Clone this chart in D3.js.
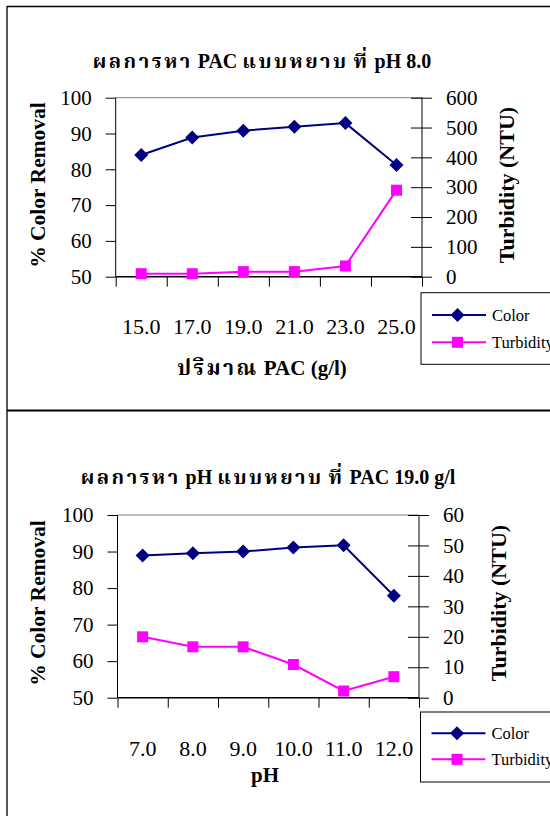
<!DOCTYPE html>
<html>
<head>
    <meta charset="utf-8">
    <title>PAC / pH jar test</title>
    <script type="text/javascript" src="https://d3js.org/d3.v7.min.js"></script>
    <style>
        body { margin: 0; background: white; }
        .canvas {
            font-family: "Liberation Serif", "Times New Roman", "Norasi", "Noto Serif Thai", "Noto Sans Thai", serif;
            background-color: white;
        }
        .axis text { font-size: 21px; fill: #000; }
        .axis path { display: none; }
        .axis line { stroke: #000; }
        .thai { letter-spacing: 2.5px; }
    </style>
</head>
<body>
    <svg class="canvas" width="550" height="816"></svg>
    <script type="text/javascript">
        // chart 1 : PAC dose at pH 8.0
        var pacDoses = ["15.0", "17.0", "19.0", "21.0", "23.0", "25.0"]
        var pacColor = [84.0, 88.9, 90.8, 91.9, 92.9, 81.2]
        var pacTurbidity = [10, 10, 17, 17, 36, 290]

        // chart 2 : pH at PAC 19.0 g/l
        var phLevels = ["7.0", "8.0", "9.0", "10.0", "11.0", "12.0"]
        var phColor = [88.9, 89.5, 90.0, 91.1, 91.7, 77.9]
        var phTurbidity = [20.0, 16.7, 16.7, 10.9, 2.2, 6.9]

        var colorTicks = [50, 60, 70, 80, 90, 100]
        var pacTurbTicks = [0, 100, 200, 300, 400, 500, 600]
        var phTurbTicks = [0, 10, 20, 30, 40, 50, 60]

        var svg = d3.select('.canvas')

        // outer frames (page is cropped on the right)
        svg.append('line').attr('x1', 7).attr('x2', 7).attr('y1', 6).attr('y2', 816)
            .attr('stroke', '#000').attr('stroke-width', 1.3)
        svg.append('line').attr('x1', 7).attr('x2', 550).attr('y1', 6.5).attr('y2', 6.5)
            .attr('stroke', '#000').attr('stroke-width', 1.3)
        svg.append('line').attr('x1', 7).attr('x2', 550).attr('y1', 410.5).attr('y2', 410.5)
            .attr('stroke', '#000').attr('stroke-width', 2)

        // split a label into thai / latin runs so thai can be spaced out a bit
        function mixedText(sel, str) {
            var runs = str.match(/[\u0E00-\u0E7F]+|[^\u0E00-\u0E7F]+/g)
            runs.forEach(r => {
                var t = sel.append('tspan').text(r)
                if (/[\u0E00-\u0E7F]/.test(r)) t.attr('class', 'thai')
            })
        }

        function drawChart(cfg) {
            var g = svg.append('g')
            var left = cfg.left, right = cfg.right, top = cfg.top, bottom = cfg.bottom

            var x = d3.scaleBand().domain(cfg.cats).range([left, right])
            var xi = d3.scaleLinear().domain([0, cfg.cats.length]).range([left, right])
            var yL = d3.scaleLinear().domain([50, 100]).range([bottom, top])
            var yR = d3.scaleLinear().domain([0, d3.max(cfg.turbTicks)]).range([bottom, top])
            var cx = d => x(d) + x.bandwidth() / 2

            // plot area frame
            g.append('line').attr('x1', left).attr('x2', right).attr('y1', top).attr('y2', top)
                .attr('stroke', '#808080')
            g.append('line').attr('x1', left).attr('x2', left).attr('y1', top).attr('y2', bottom)
                .attr('stroke', '#000')
            g.append('line').attr('x1', right).attr('x2', right).attr('y1', top).attr('y2', bottom)
                .attr('stroke', '#000')

            // left axis
            g.append('g').attr('class', 'axis')
                .attr('transform', 'translate(' + left + ',0)')
                .call(d3.axisLeft(yL).tickValues(colorTicks).tickSize(10).tickSizeOuter(0).tickPadding(14))

            // right axis (ticks cross the line)
            g.append('g').attr('class', 'axis')
                .attr('transform', 'translate(' + right + ',0)')
                .call(d3.axisRight(yR).tickValues(cfg.turbTicks).tickSize(10).tickSizeOuter(0).tickPadding(14))
            g.append('g').attr('class', 'axis')
                .attr('transform', 'translate(' + right + ',0)')
                .call(d3.axisLeft(yR).tickValues(cfg.turbTicks).tickSize(11).tickSizeOuter(0).tickFormat(''))

            // bottom axis: boundary ticks + category labels far below
            g.append('g').attr('class', 'axis')
                .attr('transform', 'translate(0,' + bottom + ')')
                .call(d3.axisBottom(xi).tickValues(d3.range(cfg.cats.length + 1)).tickSize(10).tickFormat(''))
            g.append('line').attr('x1', left).attr('x2', right).attr('y1', bottom).attr('y2', bottom)
                .attr('stroke', '#000').attr('stroke-width', 1.6)
            g.append('g').attr('class', 'axis')
                .attr('transform', 'translate(0,' + bottom + ')')
                .call(d3.axisBottom(x).tickSize(0).tickPadding(cfg.xLabelPad))
                .selectAll('text').style('font-size', '22px')

            // let axis labels use the page serif font
            g.selectAll('.axis').attr('font-family', null)

            // titles
            g.append('text').attr('x', cfg.titleX).attr('y', cfg.titleY)
                .attr('text-anchor', 'middle').attr('font-size', 20).attr('font-weight', 'bold')
                .call(mixedText, cfg.title)
            g.append('text').attr('x', cfg.xTitleX).attr('y', cfg.xTitleY)
                .attr('text-anchor', 'middle').attr('font-size', 21).attr('font-weight', 'bold')
                .call(mixedText, cfg.xTitle)
            g.append('text')
                .attr('transform', 'translate(45,' + cfg.yTitleY + ') rotate(-90)')
                .attr('text-anchor', 'middle').attr('font-size', 21.5).attr('font-weight', 'bold')
                .text('% Color Removal')
            g.append('text')
                .attr('transform', 'translate(' + cfg.y2TitleX + ',' + cfg.yTitleY + ') rotate(-90)')
                .attr('text-anchor', 'middle').attr('font-size', 22).attr('font-weight', 'bold')
                .text('Turbidity (NTU)')

            // series
            var line = d3.line()
            var colorPts = cfg.cats.map((c, i) => [cx(c), yL(cfg.color[i])])
            var turbPts = cfg.cats.map((c, i) => [cx(c), yR(cfg.turb[i])])

            g.append('path').attr('d', line(turbPts)).attr('fill', 'none')
                .attr('stroke', '#FF00FF').attr('stroke-width', 2)
            g.selectAll('.sq').data(turbPts).enter().append('rect')
                .attr('x', d => d[0] - 5.5).attr('y', d => d[1] - 5.5)
                .attr('width', 11).attr('height', 11).attr('fill', '#FF00FF')

            g.append('path').attr('d', line(colorPts)).attr('fill', 'none')
                .attr('stroke', '#000080').attr('stroke-width', 2)
            g.selectAll('.dm').data(colorPts).enter().append('path')
                .attr('d', d => 'M' + d[0] + ',' + (d[1] - 7) + 'L' + (d[0] + 7) + ',' + d[1] +
                    'L' + d[0] + ',' + (d[1] + 7) + 'L' + (d[0] - 7) + ',' + d[1] + 'Z')
                .attr('fill', '#000080')

            // legend
            var lg = g.append('g')
            lg.append('rect').attr('x', cfg.legX).attr('y', cfg.legY)
                .attr('width', 140).attr('height', cfg.legH)
                .attr('fill', 'white').attr('stroke', '#000')
            var rows = [
                { name: 'Color', c: '#000080', dy: cfg.legRow1 },
                { name: 'Turbidity', c: '#FF00FF', dy: cfg.legRow2 }
            ]
            rows.forEach(r => {
                var yy = cfg.legY + r.dy
                lg.append('line').attr('x1', cfg.legX + 11).attr('x2', cfg.legX + 65)
                    .attr('y1', yy).attr('y2', yy).attr('stroke', r.c).attr('stroke-width', 2)
                var mx = cfg.legX + 36.5
                if (r.name === 'Color') {
                    lg.append('path').attr('d', 'M' + mx + ',' + (yy - 7) + 'L' + (mx + 7) + ',' + yy +
                        'L' + mx + ',' + (yy + 7) + 'L' + (mx - 7) + ',' + yy + 'Z').attr('fill', r.c)
                } else {
                    lg.append('rect').attr('x', mx - 5.5).attr('y', yy - 5.5)
                        .attr('width', 11).attr('height', 11).attr('fill', r.c)
                }
                lg.append('text').attr('x', cfg.legX + 71).attr('y', yy + 5.5)
                    .attr('font-size', 16.5).text(r.name)
            })
        }

        drawChart({
            cats: pacDoses, color: pacColor, turb: pacTurbidity, turbTicks: pacTurbTicks,
            left: 115.7, right: 422, top: 97.7, bottom: 276.7,
            title: 'ผลการหา PAC แบบหยาบ ที่ pH 8.0', titleX: 262, titleY: 68,
            xTitle: 'ปริมาณ PAC (g/l)', xTitleX: 262, xTitleY: 375,
            xLabelPad: 42, yTitleY: 185, y2TitleX: 514,
            legX: 421, legY: 292.7, legH: 71.6, legRow1: 22.3, legRow2: 49.6
        })

        drawChart({
            cats: phLevels, color: phColor, turb: phTurbidity, turbTicks: phTurbTicks,
            left: 117.5, right: 419, top: 515, bottom: 697.7,
            title: 'ผลการหา pH แบบหยาบ ที่ PAC 19.0 g/l', titleX: 268, titleY: 484,
            xTitle: 'pH', xTitleX: 265, xTitleY: 782,
            xLabelPad: 43, yTitleY: 603, y2TitleX: 505.5,
            legX: 420.5, legY: 712, legH: 70, legRow1: 21.3, legRow2: 47.3
        })
    </script>
</body>
</html>
